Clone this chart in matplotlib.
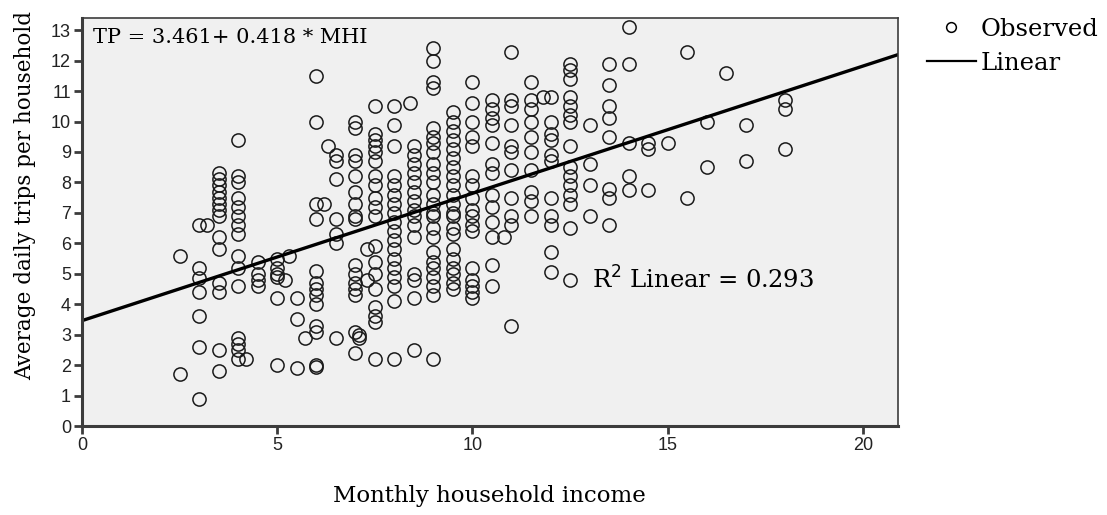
import matplotlib
matplotlib.use("Agg")
import matplotlib.pyplot as plt
import numpy as np
from matplotlib.lines import Line2D

# observed points, grouped by income column
income = (
    [2.5] * 2 + [3.0] * 7 + [3.2] + [3.5] * 14 + [4.0] * 15 + [4.2] + [4.5] * 4
    + [5.0] * 6 + [5.2, 5.3] + [5.5] * 3 + [5.7] + [6.0] * 13 + [6.2, 6.3]
    + [6.5] * 7 + [7.0] * 16 + [7.1] * 2 + [7.3] * 2 + [7.5] * 19 + [8.0] * 18
    + [8.4] + [8.5] * 15 + [9.0] * 24 + [9.5] * 21 + [10.0] * 17 + [10.5] * 13
    + [10.8] + [11.0] * 11 + [11.5] * 10 + [11.8] + [12.0] * 11 + [12.5] * 15
    + [13.0] * 4 + [13.5] * 8 + [14.0] * 5 + [14.5] * 3 + [15.0] + [15.5] * 2
    + [16.0] * 2 + [16.5] + [17.0] * 2 + [18.0] * 3
)
trips = [
    5.6, 1.7,
    6.6, 5.2, 4.85, 4.4, 3.6, 2.6, 0.9,
    6.6,
    8.3, 8.1, 7.9, 7.7, 7.5, 7.3, 7.1, 6.9, 6.2, 5.8, 4.7, 4.4, 2.5, 1.8,
    9.4, 8.2, 8.0, 7.5, 7.2, 6.9, 6.6, 6.3, 5.6, 5.2, 4.6, 2.9, 2.7, 2.5, 2.2,
    2.2,
    5.4, 5.0, 4.8, 4.6,
    5.5, 5.2, 5.0, 4.9, 4.2, 2.0,
    4.8, 5.6,
    4.2, 3.5, 1.9,
    2.9,
    11.5, 10.0, 7.3, 6.8, 5.1, 4.7, 4.5, 4.3, 4.0, 3.3, 3.1, 2.0, 1.95,
    7.3, 9.2,
    8.9, 8.7, 8.1, 6.8, 6.3, 6.0, 2.9,
    10.0, 9.8, 8.9, 8.7, 8.2, 7.7, 7.3, 6.9, 6.8, 5.3, 5.0, 4.7, 4.5, 4.3, 3.1, 2.4,
    3.0, 2.9,
    5.8, 4.8,
    10.5, 9.6, 9.4, 9.2, 9.0, 8.7, 8.2, 7.9, 7.5, 7.2, 6.9, 5.9, 5.4, 5.0, 4.5,
    3.9, 3.6, 3.4, 2.2,
    10.5, 9.9, 9.2, 8.2, 7.9, 7.6, 7.3, 7.0, 6.7, 6.4, 6.1, 5.8, 5.5, 5.2, 4.9,
    4.6, 4.1, 2.2,
    10.6,
    9.2, 8.9, 8.6, 8.3, 8.0, 7.7, 7.4, 7.1, 6.9, 6.6, 6.2, 5.0, 4.8, 4.2, 2.5,
    12.4, 12.0, 11.3, 11.1, 9.8, 9.5, 9.3, 9.0, 8.6, 8.3, 8.0, 7.6, 7.3, 7.0,
    6.9, 6.5, 6.2, 5.7, 5.4, 5.2, 4.9, 4.6, 4.3, 2.2,
    10.3, 10.0, 9.7, 9.4, 9.1, 8.8, 8.5, 8.2, 7.9, 7.6, 7.3, 7.0, 6.9, 6.5, 6.3,
    5.8, 5.5, 5.2, 5.0, 4.7, 4.5,
    11.3, 10.6, 10.0, 9.5, 9.2, 8.2, 7.9, 7.5, 7.1, 6.9, 6.6, 6.4, 5.2, 4.8,
    4.6, 4.4, 4.2,
    10.7, 10.4, 10.1, 9.9, 9.3, 8.6, 8.3, 7.6, 7.2, 6.7, 6.2, 5.3, 4.6,
    6.2,
    12.3, 10.7, 10.5, 9.9, 9.2, 9.0, 8.4, 7.5, 6.9, 6.6, 3.3,
    11.3, 10.7, 10.4, 10.0, 9.5, 9.0, 8.4, 7.7, 7.4, 6.9,
    10.8,
    10.8, 10.0, 9.6, 9.4, 8.9, 8.7, 7.5, 6.9, 6.6, 5.7, 5.05,
    11.9, 11.7, 11.4, 10.8, 10.5, 10.2, 10.0, 9.2, 8.5, 8.2, 7.9, 7.6, 7.3, 6.5, 4.8,
    9.9, 8.6, 7.9, 6.9,
    11.9, 11.2, 10.5, 10.1, 9.5, 7.8, 7.5, 6.6,
    13.1, 11.9, 9.3, 8.2, 7.75,
    9.3, 9.1, 7.75,
    9.3,
    12.3, 7.5,
    10.0, 8.5,
    11.6,
    9.9, 8.7,
    10.7, 10.4, 9.1,
]

intercept = 3.461
slope = 0.418
x_ticks = [0, 5, 10, 15, 20]
y_ticks = list(range(0, 14))

serif = ["DejaVu Serif"]
sans = ["Liberation Sans", "DejaVu Sans"]
edge = "#3c3c3c"

fig = plt.figure(figsize=(11.07, 5.15), dpi=100)
ax = fig.add_axes([0.0741, 0.1728, 0.7371, 0.7922])
ax.set_facecolor("#f0f0f0")

ax.plot(income, trips, linestyle="none", marker="o", markersize=9.5,
        markerfacecolor="none", markeredgecolor="#1a1a1a", markeredgewidth=1.1)

line_x = np.array([0, 20.9])
ax.plot(line_x, intercept + slope * line_x, color="black", linewidth=2.4)

ax.set_xlim(0, 20.9)
ax.set_ylim(0, 13.4)
ax.set_xticks(x_ticks)
ax.set_yticks(y_ticks)
for lab in ax.get_xticklabels() + ax.get_yticklabels():
    lab.set_family(sans)
    lab.set_fontsize(13)
    lab.set_color("#222222")
ax.tick_params(direction="out", length=6, width=2, color=edge, pad=2)
for side in ["left", "bottom"]:
    ax.spines[side].set_linewidth(2.2)
    ax.spines[side].set_color(edge)
for side in ["top", "right"]:
    ax.spines[side].set_linewidth(1.2)
    ax.spines[side].set_color(edge)

fig.text(489 / 1107, 1 - 496 / 515, "Monthly household income", family=serif,
         fontsize=16.5, ha="center", va="center")
fig.text(25 / 1107, 1 - 195 / 515, "Average daily trips per household", family=serif,
         fontsize=15.5, ha="center", va="center", rotation=90)

ax.text(0.28, 12.77, "TP = 3.461+ 0.418 * MHI", family=serif, fontsize=15,
        va="center", ha="left")
ax.text(13.06, 4.8, r"R$^{2}$ Linear = 0.293", family=serif, fontsize=17.5,
        va="center", ha="left")

handles = [
    Line2D([], [], linestyle="none", marker="o", markersize=7, markerfacecolor="none",
           markeredgecolor="black", markeredgewidth=1.1),
    Line2D([], [], color="black", linewidth=1.6),
]
leg = fig.legend(handles, ["Observed", "Linear"], loc="upper left",
                 bbox_to_anchor=(927 / 1107, 1 - 18 / 515), frameon=False,
                 prop={"family": serif, "size": 17.5}, handlelength=2.0,
                 handletextpad=0.2, labelspacing=0.45, borderaxespad=0,
                 borderpad=0)

fig.savefig("out.png", dpi=100)
